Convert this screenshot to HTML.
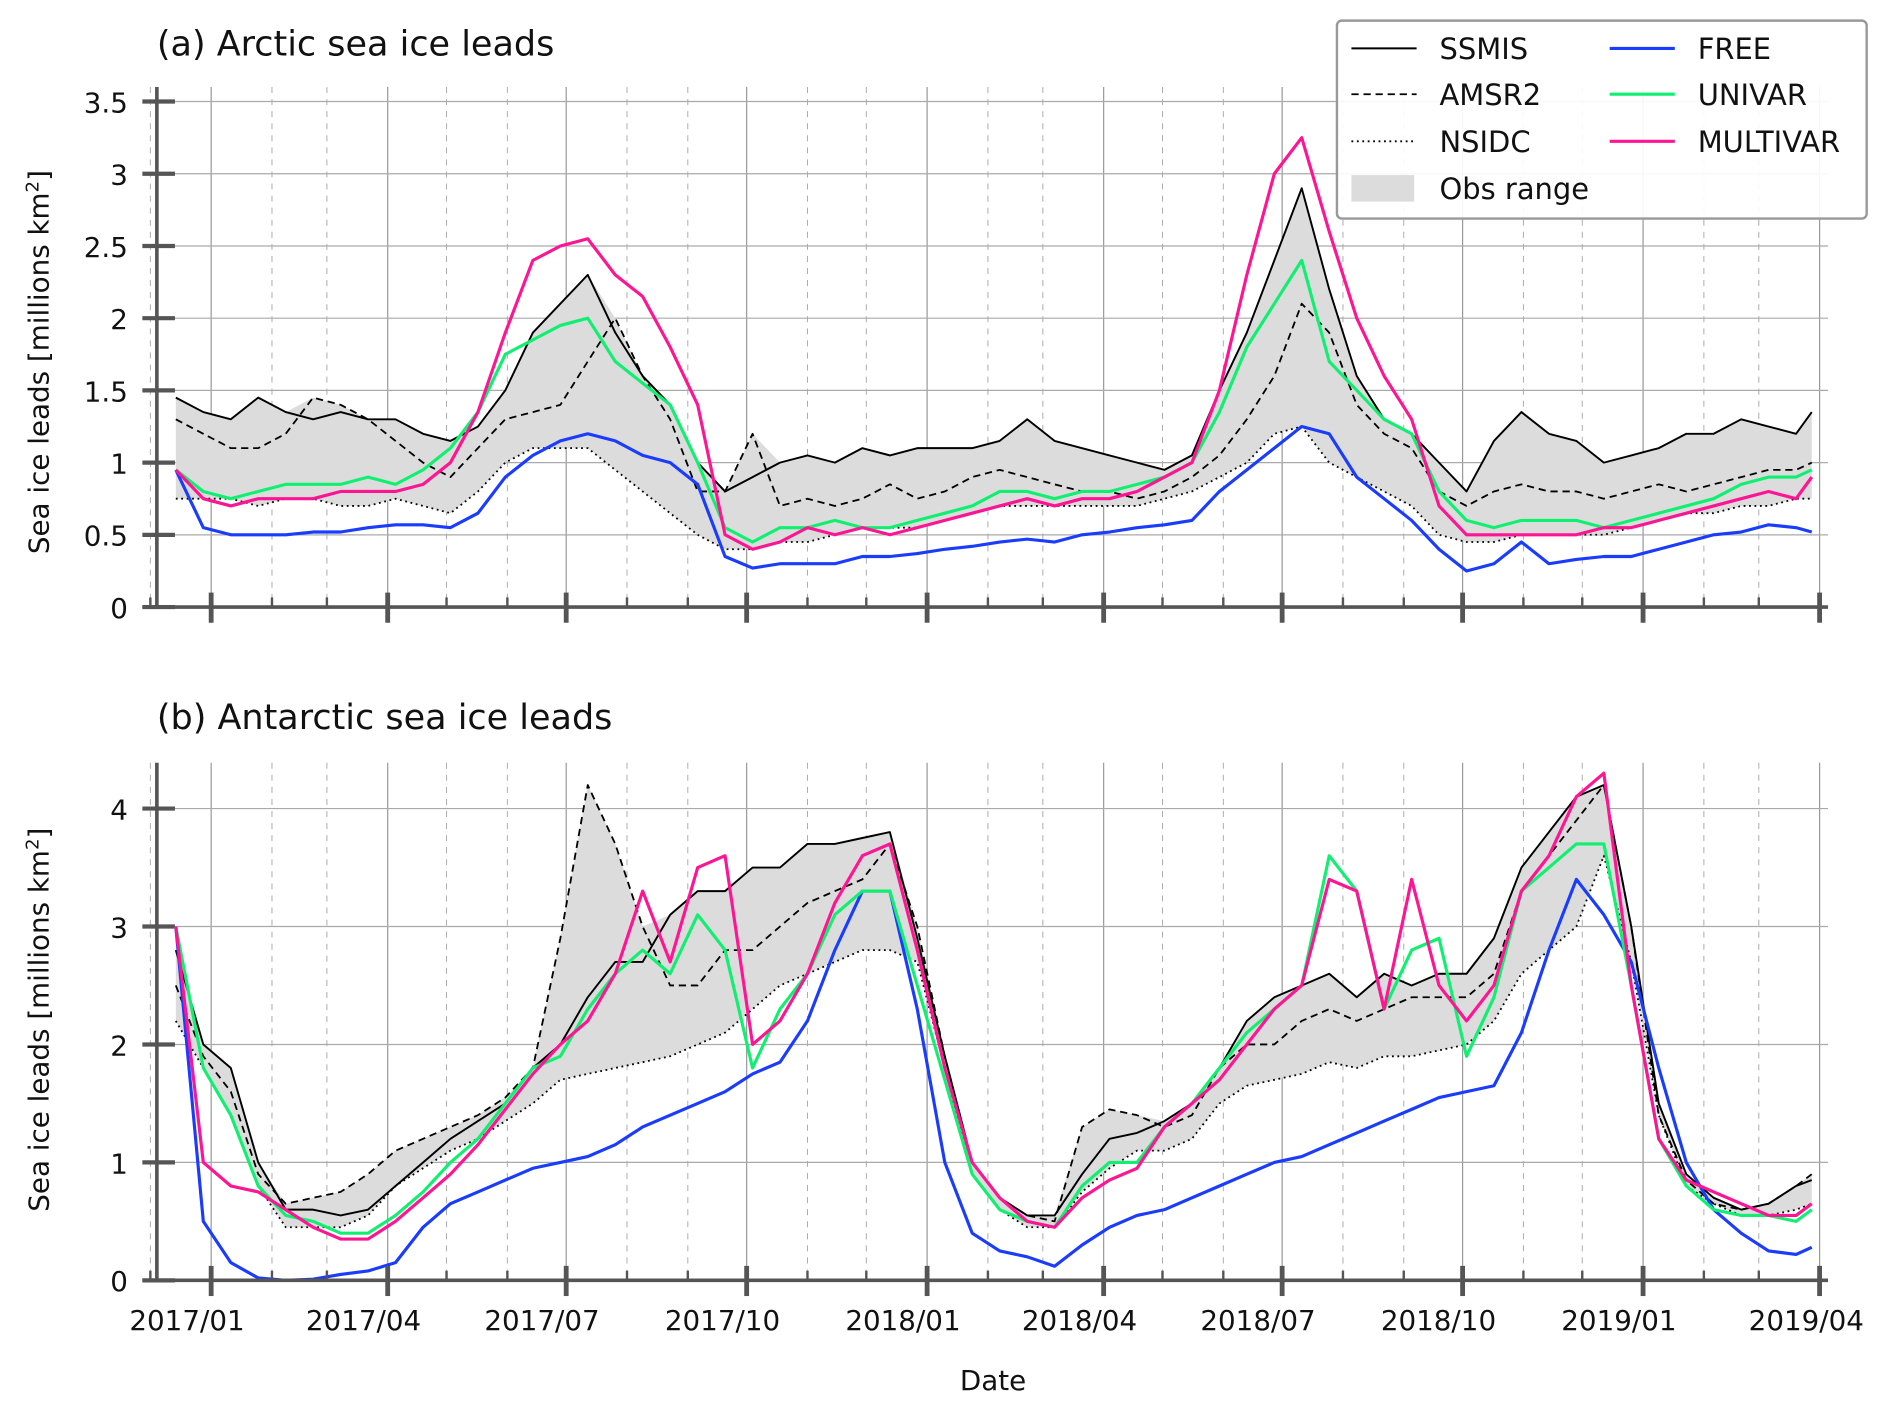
<!DOCTYPE html>
<html><head><meta charset="utf-8"><style>
html,body{margin:0;padding:0;background:#fff;}
svg{display:block;font-family:"DejaVu Sans","Liberation Sans",sans-serif;}
</style></head><body>
<svg id="chart" width="1892" height="1412" viewBox="0 0 1568 1170" xmlns="http://www.w3.org/2000/svg">
<g id="root"></g>
</svg>
<script>
const days=[-18,-4,10,24,38,52,66,80,94,108,122,136,150,164,178,192,206,220,234,248,262,276,290,304,318,332,346,360,374,388,402,416,430,444,458,472,486,500,514,528,542,556,570,584,598,612,626,640,654,668,682,696,710,724,738,752,766,780,794,808,816];
const tickLabels=["2017/01","2017/04","2017/07","2017/10","2018/01","2018/04","2018/07","2018/10","2019/01","2019/04"];
const tickDays=[0,90,181,273,365,455,546,638,730,820];
const monthDays=[-31,0,31,59,90,120,151,181,212,243,273,304,334,365,396,424,455,485,516,546,577,608,638,669,699,730,761,789,820];
// Panel a (Arctic)
const aSSMIS=[1.45,1.35,1.3,1.45,1.35,1.3,1.35,1.3,1.3,1.2,1.15,1.25,1.5,1.9,2.1,2.3,1.9,1.6,1.4,1.0,0.8,0.9,1.0,1.05,1.0,1.1,1.05,1.1,1.1,1.1,1.15,1.3,1.15,1.1,1.05,1.0,0.95,1.05,1.5,1.9,2.4,2.9,2.2,1.6,1.3,1.2,1.0,0.8,1.15,1.35,1.2,1.15,1.0,1.05,1.1,1.2,1.2,1.3,1.25,1.2,1.35];
const aAMSR2=[1.3,1.2,1.1,1.1,1.2,1.45,1.4,1.3,1.15,1.0,0.9,1.1,1.3,1.35,1.4,1.7,2.0,1.6,1.3,0.8,0.8,1.2,0.7,0.75,0.7,0.75,0.85,0.75,0.8,0.9,0.95,0.9,0.85,0.8,0.8,0.75,0.8,0.9,1.05,1.3,1.6,2.1,1.9,1.4,1.2,1.1,0.8,0.7,0.8,0.85,0.8,0.8,0.75,0.8,0.85,0.8,0.85,0.9,0.95,0.95,1.0];
const aNSIDC=[0.75,0.75,0.75,0.7,0.75,0.75,0.7,0.7,0.75,0.7,0.65,0.8,1.0,1.1,1.1,1.1,0.95,0.8,0.65,0.5,0.4,0.4,0.45,0.45,0.5,0.55,0.55,0.55,0.6,0.65,0.7,0.7,0.7,0.7,0.7,0.7,0.75,0.8,0.9,1.0,1.2,1.25,1.0,0.9,0.8,0.7,0.5,0.45,0.45,0.5,0.5,0.5,0.5,0.55,0.6,0.65,0.65,0.7,0.7,0.75,0.75];
const aFREE=[0.95,0.55,0.5,0.5,0.5,0.52,0.52,0.55,0.57,0.57,0.55,0.65,0.9,1.05,1.15,1.2,1.15,1.05,1.0,0.85,0.35,0.27,0.3,0.3,0.3,0.35,0.35,0.37,0.4,0.42,0.45,0.47,0.45,0.5,0.52,0.55,0.57,0.6,0.8,0.95,1.1,1.25,1.2,0.9,0.75,0.6,0.4,0.25,0.3,0.45,0.3,0.33,0.35,0.35,0.4,0.45,0.5,0.52,0.57,0.55,0.52];
const aUNIVAR=[0.95,0.8,0.75,0.8,0.85,0.85,0.85,0.9,0.85,0.95,1.1,1.35,1.75,1.85,1.95,2.0,1.7,1.55,1.4,1.0,0.55,0.45,0.55,0.55,0.6,0.55,0.55,0.6,0.65,0.7,0.8,0.8,0.75,0.8,0.8,0.85,0.9,1.0,1.35,1.8,2.1,2.4,1.7,1.5,1.3,1.2,0.8,0.6,0.55,0.6,0.6,0.6,0.55,0.6,0.65,0.7,0.75,0.85,0.9,0.9,0.95];
const aMULTIVAR=[0.95,0.75,0.7,0.75,0.75,0.75,0.8,0.8,0.8,0.85,1.0,1.35,1.9,2.4,2.5,2.55,2.3,2.15,1.8,1.4,0.5,0.4,0.45,0.55,0.5,0.55,0.5,0.55,0.6,0.65,0.7,0.75,0.7,0.75,0.75,0.8,0.9,1.0,1.5,2.3,3.0,3.25,2.6,2.0,1.6,1.3,0.7,0.5,0.5,0.5,0.5,0.5,0.55,0.55,0.6,0.65,0.7,0.75,0.8,0.75,0.9];
// Panel b (Antarctic)
const bSSMIS=[2.8,2.0,1.8,1.0,0.6,0.6,0.55,0.6,0.8,1.0,1.2,1.35,1.5,1.8,2.0,2.4,2.7,2.7,3.1,3.3,3.3,3.5,3.5,3.7,3.7,3.75,3.8,2.9,1.9,1.0,0.7,0.55,0.55,0.9,1.2,1.25,1.35,1.5,1.8,2.2,2.4,2.5,2.6,2.4,2.6,2.5,2.6,2.6,2.9,3.5,3.8,4.1,4.2,3.0,1.5,0.9,0.7,0.6,0.65,0.8,0.85];
const bAMSR2=[2.5,1.9,1.6,0.9,0.65,0.7,0.75,0.9,1.1,1.2,1.3,1.4,1.55,1.8,2.9,4.2,3.7,3.0,2.5,2.5,2.8,2.8,3.0,3.2,3.3,3.4,3.7,3.0,1.9,1.0,0.7,0.55,0.5,1.3,1.45,1.4,1.3,1.4,1.8,2.0,2.0,2.2,2.3,2.2,2.3,2.4,2.4,2.4,2.6,3.3,3.6,3.9,4.2,3.0,1.4,0.85,0.65,0.6,0.65,0.8,0.9];
const bNSIDC=[2.2,1.8,1.4,0.8,0.45,0.45,0.45,0.55,0.8,0.95,1.1,1.2,1.35,1.5,1.7,1.75,1.8,1.85,1.9,2.0,2.1,2.3,2.5,2.6,2.7,2.8,2.8,2.7,1.8,0.9,0.6,0.45,0.45,0.75,0.95,1.1,1.1,1.2,1.5,1.65,1.7,1.75,1.85,1.8,1.9,1.9,1.95,2.0,2.2,2.6,2.8,3.0,3.6,2.7,1.4,0.8,0.65,0.55,0.55,0.6,0.65];
const bFREE=[3.0,0.5,0.15,0.02,0,0.01,0.05,0.08,0.15,0.45,0.65,0.75,0.85,0.95,1.0,1.05,1.15,1.3,1.4,1.5,1.6,1.75,1.85,2.2,2.8,3.3,3.3,2.3,1.0,0.4,0.25,0.2,0.12,0.3,0.45,0.55,0.6,0.7,0.8,0.9,1.0,1.05,1.15,1.25,1.35,1.45,1.55,1.6,1.65,2.1,2.8,3.4,3.1,2.7,1.8,1.0,0.6,0.4,0.25,0.22,0.28];
const bUNIVAR=[3.0,1.8,1.4,0.8,0.55,0.5,0.4,0.4,0.55,0.75,1.0,1.2,1.5,1.8,1.9,2.3,2.6,2.8,2.6,3.1,2.8,1.8,2.3,2.6,3.1,3.3,3.3,2.5,1.7,0.9,0.6,0.5,0.45,0.8,1.0,1.0,1.3,1.5,1.8,2.1,2.3,2.5,3.6,3.3,2.3,2.8,2.9,1.9,2.4,3.3,3.5,3.7,3.7,2.5,1.2,0.8,0.6,0.55,0.55,0.5,0.6];
const bMULTIVAR=[3.0,1.0,0.8,0.75,0.6,0.45,0.35,0.35,0.5,0.7,0.9,1.15,1.45,1.75,2.0,2.2,2.6,3.3,2.7,3.5,3.6,2.0,2.2,2.6,3.2,3.6,3.7,2.8,1.8,1.0,0.7,0.5,0.45,0.7,0.85,0.95,1.3,1.5,1.7,2.0,2.3,2.5,3.4,3.3,2.3,3.4,2.5,2.2,2.5,3.3,3.6,4.1,4.3,2.5,1.2,0.85,0.75,0.65,0.55,0.55,0.65];
const aTicks=[0,0.5,1,1.5,2,2.5,3,3.5];
const aTickLabels=["0","0.5","1","1.5","2","2.5","3","3.5"];
const bTicks=[0,1,2,3,4];
const bTickLabels=["0","1","2","3","4"];

const NS="http://www.w3.org/2000/svg";
const root=document.getElementById('root');
function mk(tag,attrs,parent){const e=document.createElementNS(NS,tag);for(const k in attrs)e.setAttribute(k,attrs[k]);(parent||root).appendChild(e);return e;}
const X0=118,X1=1515;
function xScale(d){return 175+d*(1508-175)/820;}

function panel(cfg){
  const g=mk('g',{});
  
  
  const y=v=>cfg.y0-v*cfg.k;
  const top=cfg.top;
  monthDays.forEach(d=>{
    const x=xScale(d); if(x<X0||x>X1)return;
    const major=tickDays.indexOf(d)>=0;
    const l=mk('line',{x1:x,x2:x,y1:top,y2:cfg.y0,stroke:major?'#999':'#aaa','stroke-width':major?1:0.8,'stroke-dasharray':major?'':'5,5'},g);
    
    
  });
  cfg.ticks.forEach((v,i)=>{
    const gl=mk('line',{x1:X0,x2:X1,y1:y(v),y2:y(v),stroke:'#aaa','stroke-width':1},g);
    
    
    const t=mk('line',{x1:X0,x2:145,y1:y(v),y2:y(v),stroke:'#555','stroke-width':3.5},g);
    
    
    const tx=mk('text',{x:106,y:y(v)+9,'text-anchor':'end','font-size':23,fill:'#111'},g);
    tx.textContent=cfg.tickLabels[i];
    
    
  });
  const sp=mk('line',{x1:130,x2:130,y1:top,y2:cfg.y0,stroke:'#555','stroke-width':3},g);
  
  
  const s=[cfg.ssmis,cfg.amsr2,cfg.nsidc];
  let up='',lo='';
  days.forEach((d,i)=>{const mx=Math.max(s[0][i],s[1][i],s[2][i]);up+=(i?'L':'M')+xScale(d).toFixed(1)+','+y(mx).toFixed(1);});
  for(let i=days.length-1;i>=0;i--){const mn=Math.min(s[0][i],s[1][i],s[2][i]);lo+='L'+xScale(days[i]).toFixed(1)+','+y(mn).toFixed(1);}
  const band=mk('path',{d:up+lo+'Z',fill:'#dcdcdc',stroke:'none'},g);
  
  
  const series=[
    [cfg.nsidc,'#000',1.5,'1.5,3','nsidc-line'],
    [cfg.amsr2,'#000',1.5,'6,4','amsr2-line'],
    [cfg.ssmis,'#000',1.6,'','ssmis-line'],
    [cfg.free,'#1a3cff',2.6,'','free-line'],
    [cfg.univar,'#10f070',2.6,'','univar-line'],
    [cfg.multivar,'#ff1493',2.6,'','multivar-line']];
  series.forEach(([arr,c,w,da,nm])=>{
    let p='';days.forEach((d,i)=>{p+=(i?'L':'M')+xScale(d).toFixed(1)+','+y(arr[i]).toFixed(1);});
    const pe=mk('path',{d:p,fill:'none',stroke:c,'stroke-width':w,'stroke-dasharray':da,'stroke-linejoin':'round'},g);
    
    
  });
  const ax=mk('line',{x1:X0,x2:X1,y1:cfg.y0,y2:cfg.y0,stroke:'#555','stroke-width':3},g);
  
  
  monthDays.forEach(d=>{
    const x=xScale(d); if(x<X0||x>X1)return;
    const major=tickDays.indexOf(d)>=0;
    const t=mk('line',{x1:x,x2:x,y1:major?cfg.y0-12:cfg.y0-8,y2:major?cfg.y0+13:cfg.y0,stroke:'#555','stroke-width':major?4:2},g);
    
    
  });
  const ti=mk('text',{x:130,y:cfg.titleY,'font-size':29,fill:'#111'},g);
  ti.textContent=cfg.title;
  
  
  const yl=mk('text',{x:0,y:0,'font-size':23,fill:'#111','text-anchor':'middle',transform:`translate(40,${cfg.labelY}) rotate(-90)`},g);
  yl.innerHTML='Sea ice leads [millions km<tspan baseline-shift="super" font-size="15">2</tspan>]';
  
  
}
panel({name:'panel-arctic',top:72,y0:503,k:119.7,ticks:aTicks,tickLabels:aTickLabels,ssmis:aSSMIS,amsr2:aAMSR2,nsidc:aNSIDC,free:aFREE,univar:aUNIVAR,multivar:aMULTIVAR,title:'(a) Arctic sea ice leads',titleY:46,labelY:300});
panel({name:'panel-antarctic',top:632,y0:1061,k:97.75,ticks:bTicks,tickLabels:bTickLabels,ssmis:bSSMIS,amsr2:bAMSR2,nsidc:bNSIDC,free:bFREE,univar:bUNIVAR,multivar:bMULTIVAR,title:'(b) Antarctic sea ice leads',titleY:604,labelY:845});
tickDays.forEach((d,i)=>{
  const t=mk('text',{x:xScale(d)-(i===tickDays.length-1?11:20),y:1102,'text-anchor':'middle','font-size':23,fill:'#111'});
  t.textContent=tickLabels[i];
  
  
});
const xt=mk('text',{x:823,y:1152,'text-anchor':'middle','font-size':23,fill:'#111'});
xt.textContent='Date';


const lg=mk('g',{});


mk('rect',{x:1108,y:17,width:439,height:164,rx:4,fill:'#fff','fill-opacity':0.92,stroke:'#999','stroke-width':2},lg);
const legItems=[
 ['SSMIS',1120,40,'#000',1.6,'','line'],['AMSR2',1120,78,'#000',1.5,'6,4','line'],['NSIDC',1120,117,'#000',1.5,'1.5,3','line'],['Obs range',1120,156,'#dcdcdc',0,'','patch'],
 ['FREE',1334,40,'#1a3cff',2.6,'','line'],['UNIVAR',1334,78,'#10f070',2.6,'','line'],['MULTIVAR',1334,117,'#ff1493',2.6,'','line']];
legItems.forEach(([lab,x,yy,c,w,da,kind])=>{
  const e=mk('g',{},lg);
  
  
  if(kind==='line')mk('line',{x1:x,x2:x+54,y1:yy,y2:yy,stroke:c,'stroke-width':w,'stroke-dasharray':da},e);
  else mk('rect',{x:x,y:yy-11,width:52,height:22,fill:c},e);
  const t=mk('text',{x:x+73,y:yy+9,'font-size':24,fill:'#111'},e);
  t.textContent=lab;
});
</script>
</body></html>
